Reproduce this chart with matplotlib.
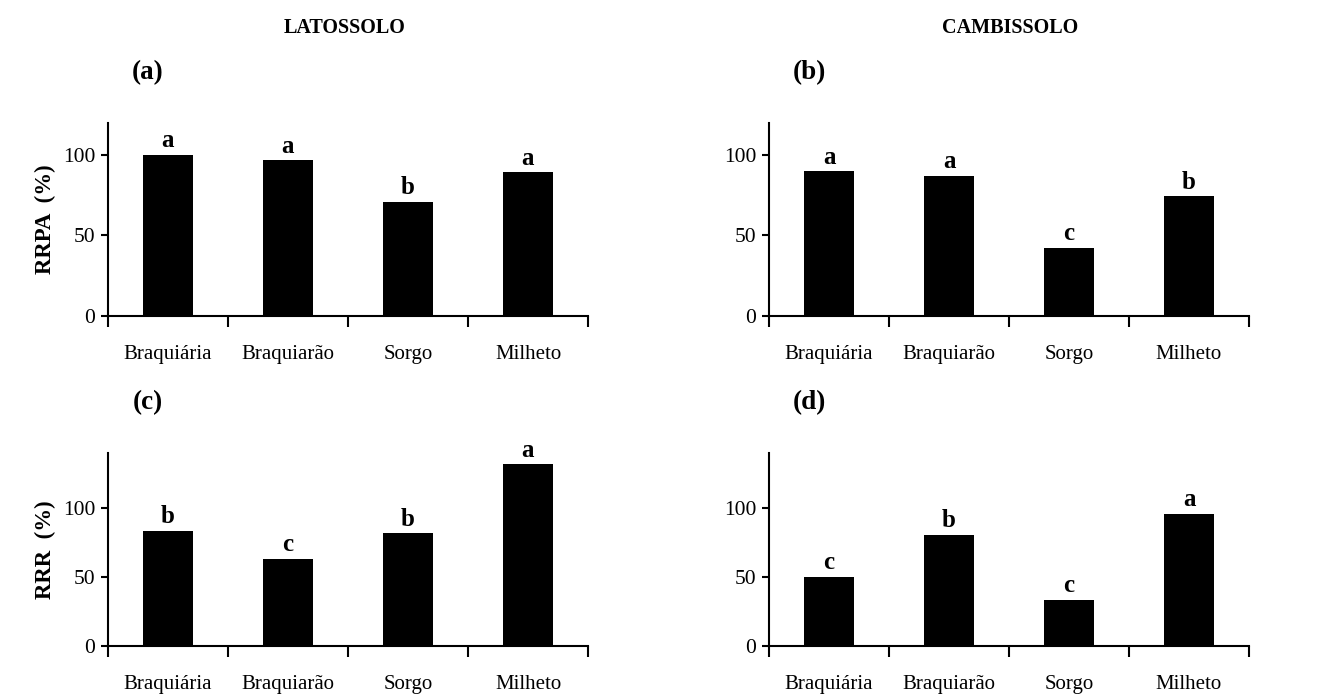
import matplotlib.pyplot as plt
import numpy as np

categorias = ['Braquiária', 'Braquiarão', 'Sorgo', 'Milheto']

rrpa_lat = [100, 96.6, 70.9, 89.2]
rrpa_cam = [89.8, 86.9, 42.1, 74.2]
rrr_lat = [83.3, 63.3, 81.6, 131.6]
rrr_cam = [50, 80.4, 33.6, 95.7]

letras_a = ['a', 'a', 'b', 'a']
letras_b = ['a', 'a', 'c', 'b']
letras_c = ['b', 'c', 'b', 'a']
letras_d = ['c', 'b', 'c', 'a']

plt.rcParams['font.family'] = ['Liberation Serif', 'DejaVu Serif']

W, H = 1323, 698
fig = plt.figure(figsize=(W/100, H/100), dpi=100)


def painel(left, top, bottom, valores, letras, ymax, tag, ylabel=None):
    ax = fig.add_axes([left/W, 1 - bottom/H, 480/W, (bottom - top)/H])
    x = np.arange(len(valores)) + 0.5
    ax.bar(x, valores, width=0.41, color='black')
    for xi, v, l in zip(x, valores, letras):
        ax.annotate(l, (xi, v), xytext=(0, 2), textcoords='offset points',
                    ha='center', va='bottom', fontsize=18, fontweight='bold')
    ax.set_xlim(0, 4)
    ax.set_ylim(0, ymax)
    ax.set_yticks([0, 50, 100])
    ax.set_xticks([0, 1, 2, 3, 4])
    ax.set_xticklabels([])
    ax.set_xticks(x, minor=True)
    ax.set_xticklabels(categorias, minor=True)
    ax.tick_params(axis='x', which='minor', length=0, pad=21, labelsize=15)
    ax.tick_params(axis='x', which='major', length=8, width=1.5, direction='out')
    ax.tick_params(axis='y', length=5, width=1.5, labelsize=15.5, pad=4)
    for s in ['top', 'right']:
        ax.spines[s].set_visible(False)
    for s in ['left', 'bottom']:
        ax.spines[s].set_linewidth(1.5)
    fig.text((left + 40)/W, 1 - (top - 50)/H, tag, fontsize=19.5,
             fontweight='bold', ha='center', va='center')
    if ylabel:
        fig.text(45/W, 1 - ((top + bottom)/2)/H, ylabel, rotation=90,
                 fontsize=16.5, fontweight='bold', ha='center', va='center')
    return ax


painel(108, 122.7, 316, rrpa_lat, letras_a, 120, '(a)', 'RRPA  (%)')
painel(769, 122.7, 316, rrpa_cam, letras_b, 120, '(b)')
painel(108, 452.7, 646, rrr_lat, letras_c, 140, '(c)', 'RRR  (%)')
painel(769, 452.7, 646, rrr_cam, letras_d, 140, '(d)')

fig.text(345/W, 1 - 28/H, 'LATOSSOLO', fontsize=14.5, fontweight='bold',
         ha='center', va='center')
fig.text(1010/W, 1 - 28/H, 'CAMBISSOLO', fontsize=14.5, fontweight='bold',
         ha='center', va='center')

fig.savefig('out.png', dpi=100)
